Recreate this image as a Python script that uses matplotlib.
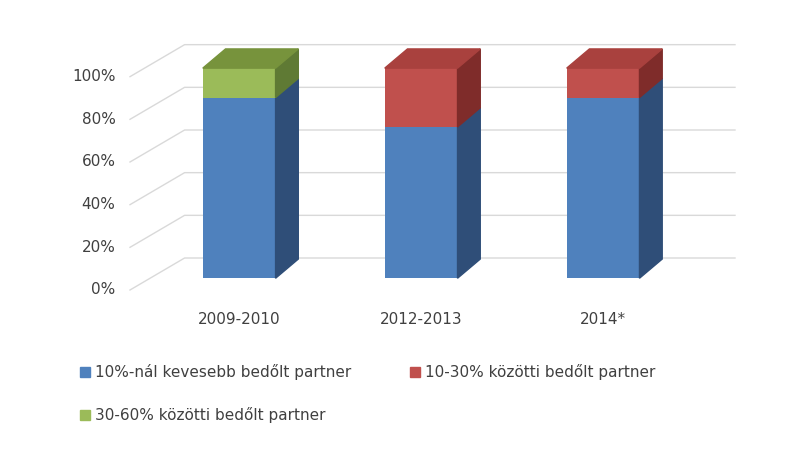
import matplotlib.pyplot as plt
from matplotlib.patches import Polygon, Rectangle

categories = ['2009-2010', '2012-2013', '2014*']
series_names = ['10%-nál kevesebb bedőlt partner', '10-30% közötti bedőlt partner',
                '30-60% közötti bedőlt partner']
low = [86, 72, 86]
mid = [0, 28, 14]
high = [14, 0, 0]
yticks = [0, 20, 40, 60, 80, 100]

front = ['#4f81bd', '#c0504d', '#9bbb59']
side = ['#2f4e78', '#7f2c2a', '#5f7a34']
top = ['#5b8fd0', '#a9413e', '#77933c']

W, DX, DY = 0.4, 0.125, 9.0      # bar width, bar depth offsets
GX, GY = 0.30, 15                 # wall depth offsets
LIFT = 5.5                        # bars sit back on the floor

fig = plt.figure(figsize=(8.1, 4.53), dpi=100)
ax = fig.add_axes([130 / 810, (453 - 290) / 453, 605 / 810, 256 / 453])
ax.set_xlim(-0.6, 2.725)
ax.set_ylim(0, 120)
ax.axis('off')

for v in yticks:
    ax.plot([-0.6, -0.6 + GX, 2.725], [v, v + GY, v + GY], color='#d9d9d9', lw=1, clip_on=False)
    ax.text(-0.68, v, f'{v}%', ha='right', va='center', fontsize=11, color='#404040')

for i, cat in enumerate(categories):
    bottom = LIFT
    segs = [(low[i], 0), (mid[i], 1), (high[i], 2)]
    segs = [s for s in segs if s[0] > 0]
    for k, (val, c) in enumerate(segs):
        val = val * 0.985
        x0, x1 = i - W / 2, i + W / 2
        ax.bar(i, val, W, bottom=bottom, color=front[c], zorder=3)
        ax.add_patch(Polygon([(x1, bottom), (x1 + DX, bottom + DY), (x1 + DX, bottom + val + DY),
                              (x1, bottom + val)], color=side[c], zorder=3))
        if k == len(segs) - 1:
            t = bottom + val
            ax.add_patch(Polygon([(x0, t), (x1, t), (x1 + DX, t + DY), (x0 + DX, t + DY)],
                                 color=top[c], zorder=3))
        bottom += val
    ax.text(i, -14, cat, ha='center', va='center', fontsize=11, color='#404040')

legend_pos = [(80, 372), (410, 372), (80, 415)]
for name, col, (px, py) in zip(series_names, front, legend_pos):
    fig.patches.append(Rectangle((px / 810, (453 - py - 5) / 453), 10 / 810, 10 / 453,
                                 color=col, transform=fig.transFigure))
    fig.text((px + 15) / 810, (453 - py) / 453, name, va='center', fontsize=11, color='#404040')

fig.savefig('out.png', dpi=100)
